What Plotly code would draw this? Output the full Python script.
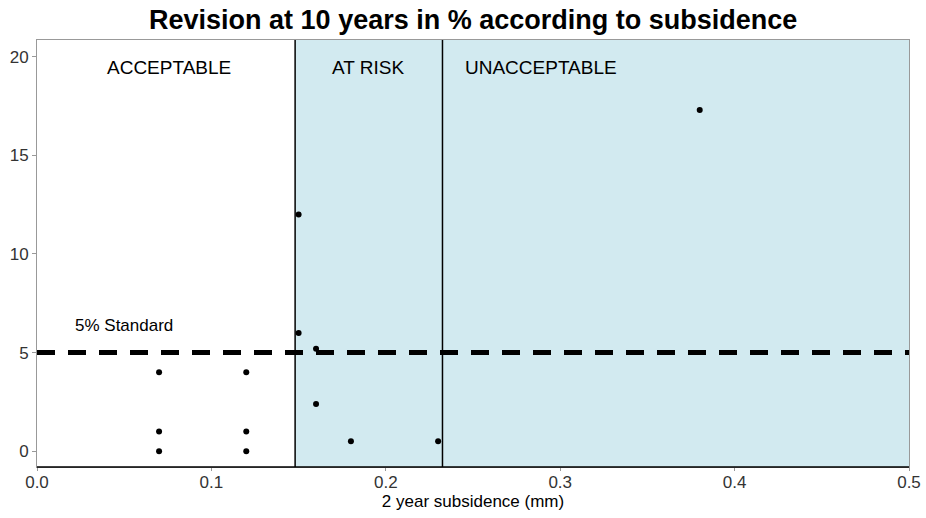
import plotly.graph_objects as go

subsidence = [0.07, 0.07, 0.07, 0.12, 0.12, 0.12, 0.15, 0.15, 0.16, 0.16, 0.18, 0.23, 0.38]
revision = [4.0, 1.0, 0.0, 4.0, 1.0, 0.0, 12.0, 6.0, 5.2, 2.4, 0.5, 0.5, 17.3]
zone_limits = [0.148, 0.2325]
zone_labels = ["ACCEPTABLE", "AT RISK", "UNACCEPTABLE"]
standard = 5

fig = go.Figure()
fig.add_trace(go.Scatter(x=subsidence, y=revision, mode="markers",
                         marker=dict(color="black", size=6), showlegend=False))

fig.add_shape(type="rect", xref="x", yref="paper", x0=zone_limits[0], x1=0.5, y0=0, y1=1,
              fillcolor="#d2eaf0", line=dict(width=0), layer="below")
for xv in zone_limits:
    fig.add_shape(type="line", xref="x", yref="paper", x0=xv, x1=xv, y0=0, y1=1,
                  line=dict(color="black", width=1.5))
fig.add_shape(type="line", xref="paper", yref="y", x0=0, x1=1, y0=standard, y1=standard,
              line=dict(color="black", width=5, dash="18px,13px"))
fig.add_shape(type="line", xref="paper", yref="paper", x0=0, x1=1, y0=0, y1=0,
              line=dict(color="black", width=1.5))

fig.add_annotation(x=0.0755, y=19.45, text=zone_labels[0], showarrow=False,
                   font=dict(size=19, color="black"))
fig.add_annotation(x=0.19, y=19.45, text=zone_labels[1], showarrow=False,
                   font=dict(size=19, color="black"))
fig.add_annotation(x=0.2445, y=19.45, text=zone_labels[2], showarrow=False, xanchor="left",
                   font=dict(size=19, color="black"))
fig.add_annotation(x=0.0205, y=6.4, text="5% Standard", showarrow=False, xanchor="left",
                   font=dict(size=17, color="black"))

fig.update_layout(
    width=926, height=518,
    margin=dict(l=37, r=17, t=40, b=51),
    paper_bgcolor="white", plot_bgcolor="white",
    font=dict(family="Liberation Sans, Arial", color="#333333"),
    title=dict(text="<b>Revision at 10 years in % according to subsidence</b>",
               x=0.511, xanchor="center", y=0.962, yanchor="middle",
               font=dict(size=27, color="black")),
    xaxis=dict(range=[0, 0.5], tickvals=[0, 0.1, 0.2, 0.3, 0.4, 0.5],
               ticktext=["0.0", "0.1", "0.2", "0.3", "0.4", "0.5"], automargin=False,
               showgrid=False, zeroline=False, showline=True, linecolor="#999999", mirror=True,
               ticks="outside", ticklen=3, tickcolor="#999999", ticklabelstandoff=-3,
               tickfont=dict(size=17, color="#333333"),
               title=dict(text="2 year subsidence (mm)", font=dict(size=17, color="black"), standoff=2)),
    yaxis=dict(range=[-0.8, 20.85], tickvals=[0, 5, 10, 15, 20], automargin=False,
               showgrid=False, zeroline=False, showline=True, linecolor="#999999", mirror=True,
               ticks="outside", ticklen=4, tickcolor="#999999", tickfont=dict(size=17, color="#333333")),
)

fig.write_html("out.html")
